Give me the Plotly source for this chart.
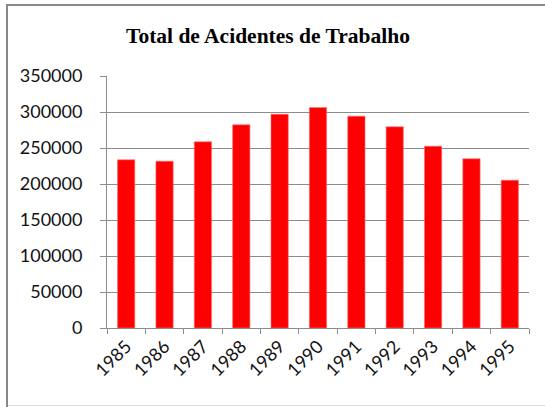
import plotly.graph_objects as go

years = ["1985", "1986", "1987", "1988", "1989", "1990", "1991", "1992", "1993", "1994", "1995"]
accidents = [233600, 231700, 258600, 282200, 296900, 306200, 294200, 279400, 252500, 235000, 205300]
y_ticks = [0, 50000, 100000, 150000, 200000, 250000, 300000, 350000]

W, H = 545, 407
L, R, T, B = 107, 16, 76, 79
pw, ph = W - L - R, H - T - B

fig = go.Figure(go.Bar(
    x=years, y=accidents,
    marker=dict(color="#ff0000", line=dict(color="#ff7070", width=0.6)),
    width=0.45,
))

def px_to_paper_x(px):
    return (px - L) / pw

def px_to_paper_y(py):
    return (H - B - py) / ph

frame = dict(xref="paper", yref="paper", layer="below")
fig.update_layout(
    width=W, height=H,
    margin=dict(l=L, r=R, t=T, b=B, autoexpand=False),
    paper_bgcolor="white", plot_bgcolor="white",
    showlegend=False,
    title=dict(text="<b>Total de Acidentes de Trabalho</b>",
               font=dict(family="Liberation Serif", size=21.5, color="black"),
               x=268 / W, xref="container", xanchor="center",
               y=1 - 35 / H, yref="container", yanchor="middle"),
    xaxis=dict(type="category", automargin=False, showgrid=False, showline=True,
               linecolor="#8c8c8c", linewidth=1,
               ticks="outside", tickson="boundaries", ticklen=5, tickcolor="#8c8c8c",
               tickangle=-45, tickfont=dict(family="Lato", size=18, color="#111")),
    yaxis=dict(range=[0, 350000], tickvals=y_ticks, ticktext=[str(v) for v in y_ticks],
               automargin=False,
               showgrid=True, gridcolor="#8c8c8c", gridwidth=1, zeroline=False,
               showline=True, linecolor="#8c8c8c", linewidth=1,
               ticks="outside", ticklen=6, tickcolor="#8c8c8c",
               ticklabelstandoff=14,
               tickfont=dict(family="Lato", size=18, color="#111")),
    shapes=[
        dict(type="line", x0=px_to_paper_x(7), x1=px_to_paper_x(7),
             y0=px_to_paper_y(410), y1=px_to_paper_y(4.5),
             line=dict(color="#888888", width=2), **frame),
        dict(type="line", x0=px_to_paper_x(6), x1=px_to_paper_x(560),
             y0=px_to_paper_y(5), y1=px_to_paper_y(5),
             line=dict(color="#888888", width=2), **frame),
        dict(type="line", x0=px_to_paper_x(8), x1=px_to_paper_x(560),
             y0=px_to_paper_y(405.5), y1=px_to_paper_y(405.5),
             line=dict(color="#dddddd", width=1), **frame),
    ],
)

fig.write_html("out.html",
               config={"displayModeBar": False},
               post_script="document.body.style.margin='0';document.body.style.overflow='hidden';")
